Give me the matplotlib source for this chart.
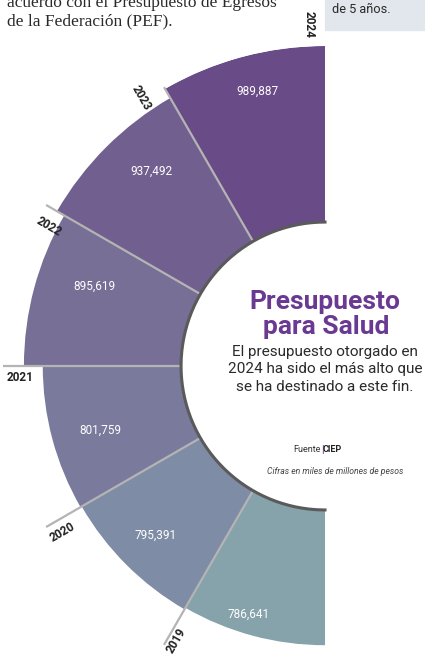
import matplotlib
matplotlib.use("Agg")
import matplotlib.pyplot as plt
import numpy as np
from matplotlib.patches import Rectangle

years = ["2019", "2020", "2021", "2022", "2023", "2024"]
budget = [786641, 795391, 801759, 895619, 937492, 989887]
value_labels = ["786,641", "795,391", "801,759", "895,619", "937,492", "989,887"]
colors = ["#86a2aa", "#7f8ca5", "#7a7b9c", "#776f95", "#71608f", "#694b87"]

W, H = 425, 655
fig = plt.figure(figsize=(W / 100, H / 100), dpi=100)
SANS = ["Roboto", "DejaVu Sans"]


def fx(x):
    return x / W


def fy(y):
    return 1 - y / H


# polar axes placed so the centre sits at (CX, CY) px
CX, CY = 325, 366
R_PX = 320
R_IN = 110000
R_MAX = 990000
R_ORIGIN = -605000


def rv(px):
    # pixel radius -> radial data value
    return R_ORIGIN + px * (R_MAX - R_ORIGIN) / R_PX


ax = fig.add_axes([fx(CX - R_PX), (H - CY - R_PX) / H, 2 * R_PX / W, 2 * R_PX / H],
                  projection="polar")
ax.set_rorigin(R_ORIGIN)
ax.set_ylim(R_IN, R_MAX)
ax.axis("off")

n = len(years)
centers = np.deg2rad([255 - 30 * i for i in range(n)])
heights = np.array(budget) - R_IN
ax.bar(centers, heights, bottom=R_IN, width=np.deg2rad(30), color=colors,
       edgecolor="none", antialiased=True)

# separator lines at the start of each year
for i in range(n - 1):
    a = np.deg2rad(240 - 30 * i)
    ax.plot([a, a], [R_IN, rv(322)], color="#b4b4b4", lw=1.6, clip_on=False,
            solid_capstyle="butt")

# inner dark rim
arc = np.linspace(np.pi / 2, 3 * np.pi / 2, 200)
ax.plot(arc, np.full_like(arc, R_IN + 2500), color="#5a5a5a", lw=2.2, clip_on=False)

# year labels
year_pos = [(241.5, 312), (212.3, 311), (182.2, 305), (153.2, 309), (124.5, 325), (92.7, 342)]
for i, (yr, (ang, rp)) in enumerate(zip(years, year_pos)):
    rot = (240 - 30 * i) - 180
    ax.text(np.deg2rad(ang), rv(rp), yr, rotation=rot, rotation_mode="anchor",
            ha="center", va="center", fontsize=8.5, fontweight="bold",
            color="#222222", clip_on=False, family=SANS)

# value labels
val_pos = [(253, 260), (225, 240), (196, 234), (161, 244), (131.7, 261), (103.9, 283)]
for lab, (ang, rp) in zip(value_labels, val_pos):
    ax.text(np.deg2rad(ang), rv(rp), lab, ha="center", va="center",
            fontsize=8.5, color="white", family=SANS)

# title block in the hole
fig.text(fx(325), fy(302), "Presupuesto", ha="center", va="center",
         fontsize=19, fontweight="bold", color="#6a3a92", family=SANS)
fig.text(fx(326), fy(327), "para Salud", ha="center", va="center",
         fontsize=19, fontweight="bold", color="#6a3a92", family=SANS)
sub = ["El presupuesto otorgado en", "2024 ha sido el más alto que",
       "se ha destinado a este fin."]
for k, line in enumerate(sub):
    fig.text(fx(325), fy(352 + 17.5 * k), line, ha="center", va="center",
             fontsize=11, color="#2a2a2a", family=SANS)

fig.text(fx(321), fy(450), "Fuente", ha="right", va="center", fontsize=6.5,
         color="#333333", family=SANS)
fig.text(fx(322), fy(450), "|", ha="center", va="center", fontsize=7,
         fontweight="bold", color="#6a3a92", family=SANS)
fig.text(fx(323), fy(450), "CIEP", ha="left", va="center", fontsize=6.5,
         fontweight="bold", color="#222222", family=SANS)
fig.text(fx(335), fy(472), "Cifras en miles de millones de pesos", ha="center",
         va="center", fontsize=6.2, style="italic", color="#444444", family=SANS)

# header text (cut at the top)
fig.text(fx(7), fy(7), "acuerdo con el Presupuesto de Egresos", ha="left",
         va="baseline", fontsize=12.5, color="#2a2a2a", family="Liberation Serif")
fig.text(fx(7), fy(25), "de la Federación (PEF).", ha="left", va="baseline",
         fontsize=12.5, color="#2a2a2a", family="Liberation Serif")

fig.patches.append(Rectangle((fx(325), fy(30)), 1 - fx(325), 30 / H,
                             transform=fig.transFigure, color="#e2e7ee", zorder=0))
fig.text(fx(332), fy(13), "de 5 años.", ha="left", va="baseline", fontsize=9.2,
         color="#2a2a2a", family=SANS)

fig.savefig("out.png", dpi=100)
